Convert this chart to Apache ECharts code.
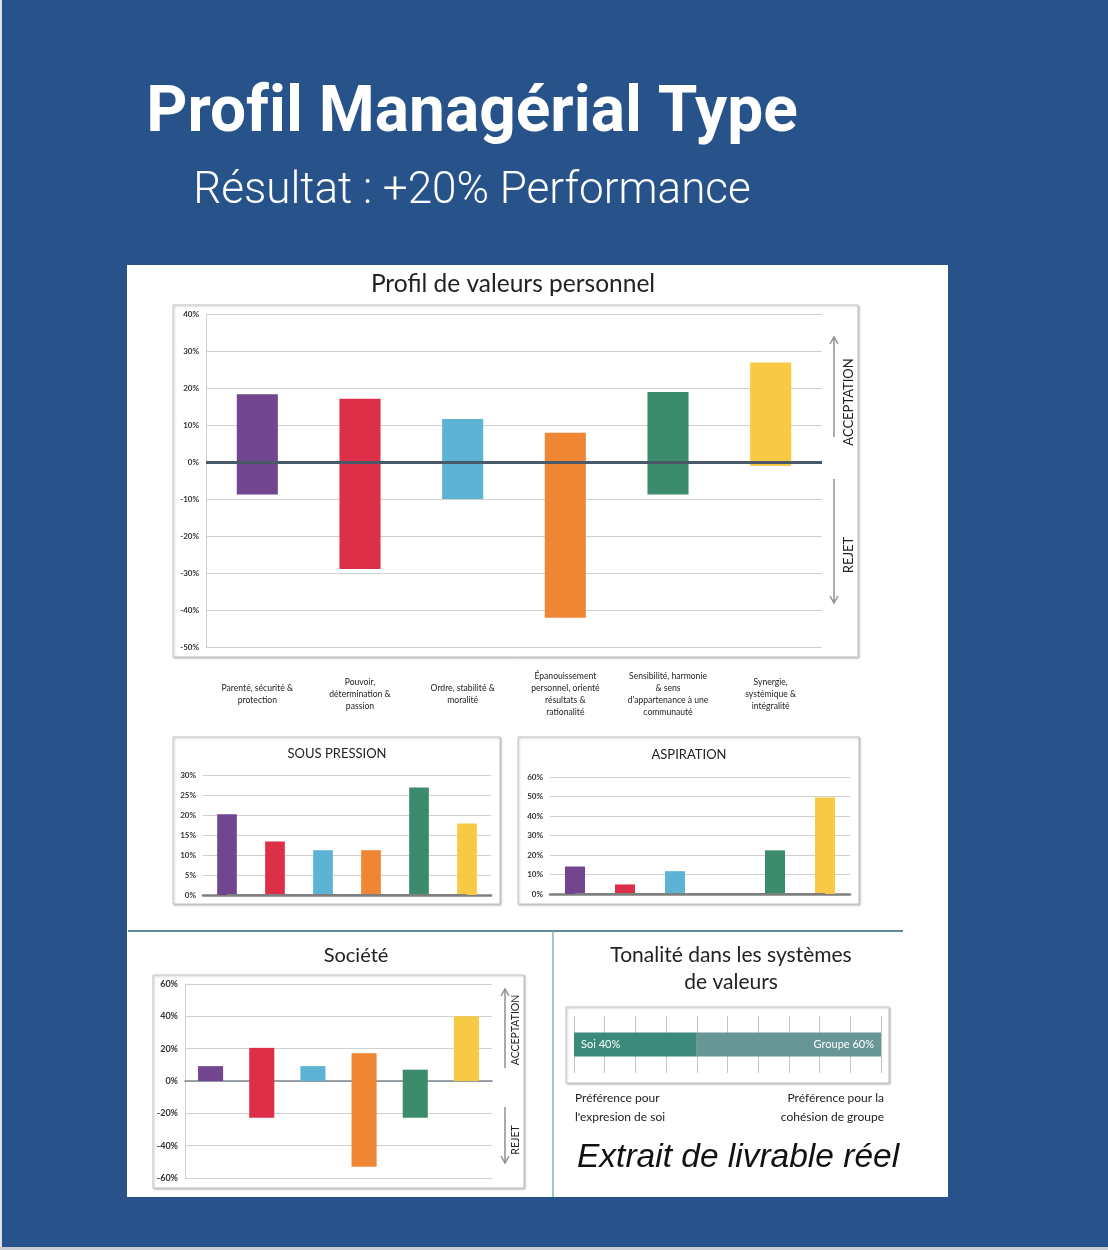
<!DOCTYPE html>
<html>
<head>
<meta charset="utf-8">
<title>Profil Managérial Type</title>
<script src="https://cdn.jsdelivr.net/npm/echarts@6/dist/echarts.min.js"></script>
<style>
  html, body { margin: 0; padding: 0; background: #27538a; }
  #main { width: 1108px; height: 1250px; }
</style>
</head>
<body>
<div id="main"></div>
<script>
var categories = [
    'Parenté, sécurité &\nprotection',
    'Pouvoir,\ndétermination &\npassion',
    'Ordre, stabilité &\nmoralité',
    'Épanouissement\npersonnel, orienté\nrésultats &\nrationalité',
    'Sensibilité, harmonie\n& sens\nd\'appartenance à une\ncommunauté',
    'Synergie,\nsystémique &\nintégralité'
];
var valeursAcceptation = [18.3, 17.1, 11.6, 7.9, 18.9, 26.9];
var valeursRejet = [-8.8, -28.9, -10.0, -42.1, -8.8, -1.1];
var sousPression = [20.2, 13.4, 11.2, 11.2, 26.9, 17.9];
var aspiration = [14.1, 4.9, 11.7, 0, 22.4, 49.5];
var societeAcceptation = [9.2, 20.5, 9.2, 17.2, 7.0, 40.1];
var societeRejet = [0, -22.7, 0, -53.0, -22.7, 0];
var tonaliteNoms = ['Soi', 'Groupe'];
var tonaliteParts = [40, 60];

var couleurs = ['#71468e', '#dd2f47', '#5cb3d3', '#ef8633', '#3c8b6d', '#f7c944'];
var couleursTonalite = ['#3b8a7b', '#689697'];
var texte = '#222';

var chart = echarts.init(document.getElementById('main'));

function couleurBarre(p) { return couleurs[p.dataIndex]; }

function axeX(grid, labels) {
    return {
        type: 'category', gridIndex: grid, data: categories,
        axisTick: { show: false },
        axisLine: { show: false, onZero: false },
        axisLabel: labels ? {
            interval: 0, fontSize: 8.6, lineHeight: 12, margin: 47,
            verticalAlign: 'middle', color: '#222'
        } : { show: false }
    };
}

function axeY(grid, min, max, interval, size, axisLine) {
    return {
        type: 'value', gridIndex: grid, min: min, max: max, interval: interval,
        axisLabel: { formatter: '{value}%', fontSize: size, fontWeight: 'bold', color: '#333', margin: 7 },
        axisTick: { show: false },
        axisLine: { show: axisLine, lineStyle: { color: '#d0d0d0', width: 1 } },
        splitLine: { lineStyle: { color: '#d0d0d0', width: 1.2 } }
    };
}

function barres(grid, data, width, stack) {
    return {
        type: 'bar', xAxisIndex: grid, yAxisIndex: grid, data: data,
        stack: stack, barWidth: width, silent: true,
        itemStyle: { color: couleurBarre }
    };
}

function ligneZero(grid, color, width) {
    return {
        type: 'line', xAxisIndex: grid, yAxisIndex: grid, silent: true,
        data: categories.map(function () { return 0; }),
        symbol: 'none', z: 3,
        lineStyle: { color: color, width: width }
    };
}

function fleche(x, y1, y2) {
    var d = y2 < y1 ? 7 : -7;
    return {
        type: 'group', children: [
            { type: 'line', shape: { x1: x, y1: y1, x2: x, y2: y2 }, style: { stroke: '#8b9095', lineWidth: 1.5 } },
            { type: 'polyline', shape: { points: [[x - 4, y2 + d], [x, y2], [x + 4, y2 + d]] }, style: { stroke: '#8b9095', lineWidth: 1.5, fill: null } }
        ]
    };
}

function txt(x, y, s, font, align, extra, fill, lineHeight) {
    var st = { text: s, font: font, fill: fill || texte, align: align || 'center', verticalAlign: 'middle',
               textAlign: align || 'center', textVerticalAlign: 'middle' };
    if (lineHeight) st.lineHeight = lineHeight;
    var el = { type: 'text', x: x, y: y, style: st };
    if (extra) { for (var k in extra) el[k] = extra[k]; }
    return el;
}

function cadre(x, y, w, h) {
    return {
        type: 'rect', z: -9, shape: { x: x, y: y, width: w, height: h },
        style: { fill: '#fff', stroke: '#c6c6c6', lineWidth: 1,
                 shadowBlur: 2, shadowOffsetX: 1, shadowOffsetY: 1, shadowColor: 'rgba(0,0,0,0.25)' }
    };
}

var seriesTonalite = tonaliteNoms.map(function (nom, i) {
    return {
        name: nom, type: 'bar', xAxisIndex: 4, yAxisIndex: 4, stack: 'ton',
        data: [tonaliteParts[i]], barWidth: 24, silent: true,
        itemStyle: { color: couleursTonalite[i] },
        label: {
            show: true, position: i === 0 ? 'insideLeft' : 'insideRight', distance: 7,
            color: '#fff', fontSize: 11,
            formatter: function (p) { return p.seriesName + ' ' + p.value + '%'; }
        }
    };
});

var option = {
    backgroundColor: '#27538a',
    animation: false,
    textStyle: { fontFamily: 'Lato' },
    grid: [
        { left: 206, top: 314, width: 616, height: 333 },
        { left: 203, top: 775, width: 288, height: 120 },
        { left: 550, top: 777, width: 300, height: 117 },
        { left: 185, top: 984, width: 307, height: 194 },
        { left: 574, top: 1016, width: 307, height: 57 }
    ],
    xAxis: [
        axeX(0, true),
        {
            type: 'category', gridIndex: 1, data: categories, axisTick: { show: false },
            axisLabel: { show: false }, axisLine: { lineStyle: { color: '#7f7f7f', width: 2.5 } }
        },
        {
            type: 'category', gridIndex: 2, data: categories, axisTick: { show: false },
            axisLabel: { show: false }, axisLine: { lineStyle: { color: '#7f7f7f', width: 2.5 } }
        },
        {
            type: 'category', gridIndex: 3, data: categories, axisTick: { show: false },
            axisLabel: { show: false }, axisLine: { onZero: true, lineStyle: { color: '#7d8791', width: 1.5 } }
        },
        {
            type: 'value', gridIndex: 4, min: 0, max: 100, interval: 10,
            axisLabel: { show: false }, axisTick: { show: false }, axisLine: { show: false },
            splitLine: { lineStyle: { color: '#c4c4c4', width: 1 } }
        }
    ],
    yAxis: [
        axeY(0, -50, 40, 10, 8, true),
        axeY(1, 0, 30, 5, 8, false),
        axeY(2, 0, 60, 10, 8, false),
        axeY(3, -60, 60, 20, 9, true),
        { type: 'category', gridIndex: 4, data: ['tonalité'], show: false }
    ],
    series: [
        Object.assign(barres(0, valeursAcceptation, '40%', 'profil'), {
            markLine: {
                silent: true, symbol: 'none', label: { show: false },
                lineStyle: { color: '#4a5967', width: 3, type: 'solid' },
                data: [{ yAxis: 0 }]
            }
        }),
        barres(0, valeursRejet, '40%', 'profil'),
        barres(1, sousPression, '41%'),
        ligneZero(1, '#7f7f7f', 2),
        barres(2, aspiration, '40%'),
        ligneZero(2, '#7f7f7f', 2),
        barres(3, societeAcceptation, '49%', 'societe'),
        barres(3, societeRejet, '49%', 'societe')
    ].concat(seriesTonalite),
    graphic: {
        elements: [
            { type: 'rect', z: -10, shape: { x: 0, y: 0, width: 2, height: 1250 }, style: { fill: '#dde2e8' } },
            { type: 'rect', z: -10, shape: { x: 0, y: 1247, width: 1108, height: 3 }, style: { fill: '#c9cdd2' } },
            { type: 'rect', z: -10, shape: { x: 127, y: 265, width: 821, height: 932 }, style: { fill: '#ffffff' } },
            cadre(173, 305, 685, 352),
            cadre(173, 737, 327, 167),
            cadre(518, 737, 341, 167),
            cadre(153, 975, 371, 213),
            cadre(566, 1007, 323, 76),
            { type: 'line', z: -9, shape: { x1: 128, y1: 931, x2: 903, y2: 931 }, style: { stroke: '#2d5f79', lineWidth: 1.5 } },
            { type: 'line', z: -9, shape: { x1: 553, y1: 931, x2: 553, y2: 1197 }, style: { stroke: '#7fb2be', lineWidth: 1.5 } },

            txt(472, 115, 'Prof\u200Cil Managérial Type', 'bold 64px Roboto', 'center', null, '#fff'),
            txt(472, 192, 'Résultat : +20% Performance', '300 44px Roboto', 'center', null, '#fff'),

            txt(513, 284, 'Profil de valeurs personnel', '24.5px Lato'),
            txt(337, 754, 'SOUS PRESSION', '13px Lato'),
            txt(689, 755, 'ASPIRATION', '13px Lato'),
            txt(356, 956, 'Société', '20px Lato'),
            txt(731, 969, 'Tonalité dans les systèmes\nde valeurs', '21px Lato', 'center', null, texte, 27),

            fleche(834, 437, 337),
            fleche(834, 479, 603),
            txt(849, 402, 'ACCEPTATION', '13px Lato', 'center', { rotation: Math.PI / 2 }),
            txt(849, 555, 'REJET', '13px Lato', 'center', { rotation: Math.PI / 2 }),

            fleche(505, 1068, 989),
            fleche(505, 1107, 1163),
            txt(516, 1030, 'ACCEPTATION', '10.5px Lato', 'center', { rotation: Math.PI / 2 }),
            txt(516, 1140, 'REJET', '10.5px Lato', 'center', { rotation: Math.PI / 2 }),

            txt(575, 1108, 'Préférence pour\nl\'expresion de soi', '12px Lato', 'left', null, texte, 19),
            txt(884, 1108, 'Préférence pour la\ncohésion de groupe', '12px Lato', 'right', null, texte, 19),
            txt(577, 1158, 'Extrait de livrable réel', 'italic 33.5px "Liberation Sans"', 'left', null, '#111')
        ]
    }
};

chart.setOption(option);
</script>
</body>
</html>
